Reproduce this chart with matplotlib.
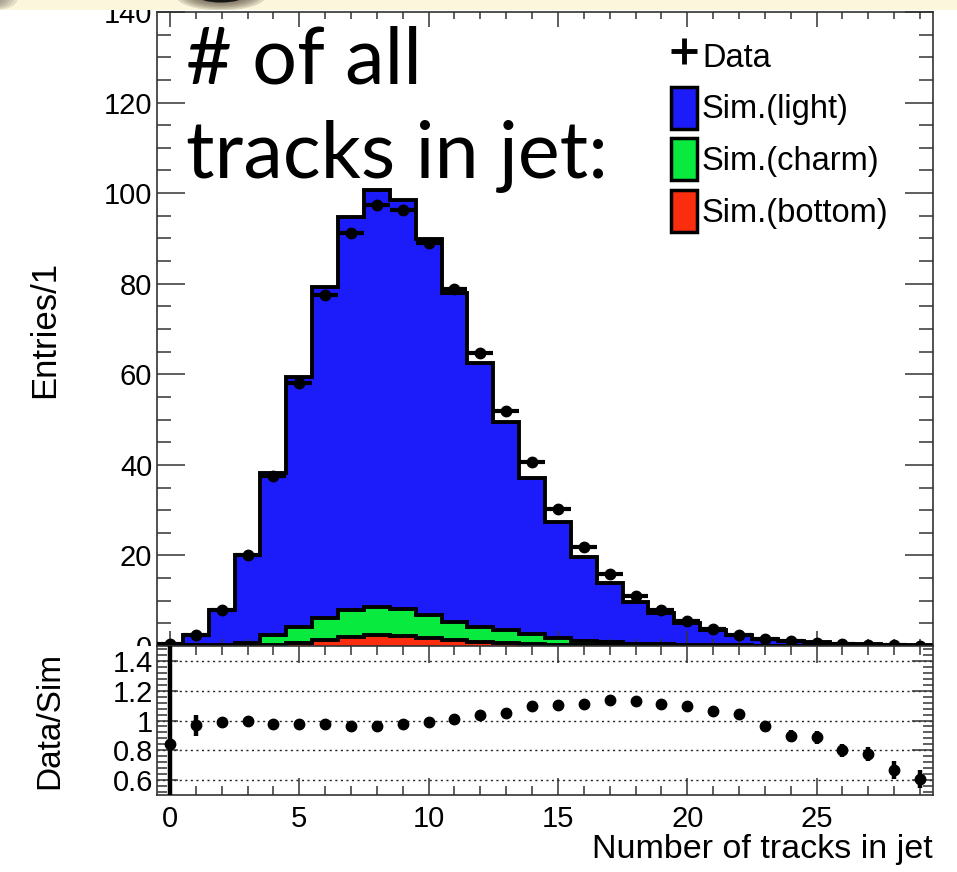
import numpy as np
import matplotlib
matplotlib.use("Agg")
import matplotlib.pyplot as plt
from matplotlib.patches import Patch, Rectangle, Ellipse
from matplotlib.lines import Line2D
from matplotlib.ticker import MultipleLocator, FixedLocator
from matplotlib.transforms import Bbox, TransformedBbox

# ---- data: number of tracks per jet, binned in unit bins ----
n_tracks = np.arange(30)

# total simulation (light + charm + bottom), stacked top
sim_total = [0.5, 2.5, 8.0, 20.0, 38.3, 59.3, 79.3, 94.8, 100.8, 98.5,
             89.8, 77.9, 62.4, 49.5, 37.0, 27.4, 19.7, 14.0, 9.8, 7.2,
             5.1, 3.5, 2.4, 1.5, 1.15, 0.8, 0.55, 0.4, 0.27, 0.18]
# charm component
sim_charm = [0.08, 0.15, 0.2, 0.45, 2.2, 3.6, 4.8, 6.0, 6.3, 6.1,
             5.1, 4.1, 3.4, 2.9, 2.15, 1.4, 0.9, 0.65, 0.45, 0.32,
             0.25, 0.16, 0.12, 0.08, 0.06, 0.04, 0.03, 0.025, 0.015, 0.01]
# bottom component
sim_bottom = [0.02, 0.05, 0.1, 0.15, 0.2, 0.7, 1.3, 1.9, 2.4, 2.1,
              1.7, 1.3, 0.9, 0.6, 0.45, 0.3, 0.2, 0.15, 0.1, 0.08,
              0.05, 0.04, 0.03, 0.02, 0.02, 0.01, 0.01, 0.005, 0.005, 0.0]
# observed data
data_counts = [0.42, 2.42, 7.91, 20.0, 37.46, 58.0, 77.56, 91.2, 97.37, 96.33,
               88.9, 78.9, 64.77, 51.83, 40.66, 30.17, 21.91, 15.92, 11.10, 7.99,
               5.59, 3.73, 2.50, 1.44, 1.03, 0.71, 0.44, 0.31, 0.18, 0.109]
# uncertainty on the data/sim ratio
ratio_err = [0.9, 0.07, 0.015, 0.01, 0.01, 0.01, 0.01, 0.01, 0.01, 0.01,
             0.01, 0.01, 0.012, 0.012, 0.014, 0.015, 0.016, 0.018, 0.02, 0.022,
             0.024, 0.026, 0.03, 0.035, 0.04, 0.045, 0.045, 0.05, 0.06, 0.06]

legend_labels = ["Data", "Sim.(light)", "Sim.(charm)", "Sim.(bottom)"]
y_ticks_top = [0, 20, 40, 60, 80, 100, 120, 140]
y_ticks_ratio = [0.6, 0.8, 1.0, 1.2, 1.4]
y_ticklabels_ratio = ["0.6", "0.8", "1", "1.2", "1.4"]
x_ticks = [0, 5, 10, 15, 20, 25]

BLUE = "#1c1cfa"
GREEN = "#08ea3e"
RED = "#fa2d0e"
OUTLINE_LW = 2.8

plt.rcParams["font.family"] = ["Liberation Sans", "DejaVu Sans"]

W, H = 957, 872
fig = plt.figure(figsize=(W / 100, H / 100), dpi=100)
fig.patch.set_facecolor("white")

def fx(px):
    return px / W

def fy(py):
    return 1 - py / H

left, right = 157, 933
top_top, split, bot_bot = 12, 646, 795
ax = fig.add_axes([fx(left), fy(split), fx(right - left), (split - top_top) / H])
rax = fig.add_axes([fx(left), fy(bot_bot), fx(right - left), (bot_bot - split) / H])

n = np.asarray(n_tracks)
total = np.asarray(sim_total)
charm = np.asarray(sim_charm)
bottom = np.asarray(sim_bottom)
data = np.asarray(data_counts)
cb = charm + bottom
edges = np.append(n - 0.5, n[-1] + 0.5)

# stacked simulation: light on top of charm on top of bottom
ax.stairs(total, edges, fill=True, color=BLUE, lw=0, zorder=1)
ax.stairs(total, edges, color="k", lw=OUTLINE_LW, zorder=2)
ax.stairs(cb, edges, fill=True, color=GREEN, lw=0, zorder=3)
ax.stairs(cb, edges, color="k", lw=OUTLINE_LW, zorder=4)
ax.stairs(bottom, edges, fill=True, color=RED, lw=0, zorder=5)
ax.stairs(bottom, edges, color="k", lw=OUTLINE_LW, zorder=6)

ax.errorbar(n, data, xerr=0.5, fmt="o", color="k", ms=7.5, elinewidth=3,
            capsize=0, zorder=8, clip_on=True)

ax.set_xlim(-0.5, 29.5)
ax.set_ylim(0, 140)
ax.set_ylabel("Entries/1", fontsize=25)
ax.yaxis.set_label_coords((61 - left) / (right - left), 0.5)
ax.yaxis.set_major_locator(FixedLocator(y_ticks_top))
ax.yaxis.set_minor_locator(MultipleLocator(5))
ax.xaxis.set_major_locator(FixedLocator(x_ticks))
ax.xaxis.set_minor_locator(MultipleLocator(1))
ax.tick_params(axis="both", which="both", direction="in", top=True, right=True,
               labelbottom=False, color="#333333", width=1.1)
ax.tick_params(axis="y", which="major", length=20, labelsize=21, pad=3.5)
ax.tick_params(axis="y", which="minor", length=10)
ax.tick_params(axis="x", which="major", length=10.5)
ax.tick_params(axis="x", which="minor", length=5)
for s in ax.spines.values():
    s.set_linewidth(1.2)
    s.set_color("#333333")

# only the part of the y tick labels above the lower pad is visible
clip = TransformedBbox(Bbox([[0, fy(split)], [1, 1]]), fig.transFigure)
for lab in ax.get_yticklabels():
    lab.set_clip_box(clip)
    lab.set_clip_on(True)

# legend
handles = [
    Line2D([], [], color="k", marker="+", ms=19, mew=3.5, ls="none"),
    Patch(facecolor=BLUE, edgecolor="k", lw=2.5),
    Patch(facecolor=GREEN, edgecolor="k", lw=2.5),
    Patch(facecolor=RED, edgecolor="k", lw=2.5),
]
ax.legend(handles, legend_labels, loc="upper left", frameon=False,
          bbox_to_anchor=(fx(671), fy(35)), bbox_transform=fig.transFigure,
          fontsize=23.5, handlelength=0.8, handleheight=1.6, handletextpad=0.15,
          labelspacing=0.3, borderpad=0, borderaxespad=0)

# ---- ratio pad ----
ratio = data / total
rax.yaxis.grid(True, which="major", ls=(0, (1.5, 2.5)), color="#222222", lw=1)
rax.set_axisbelow(True)
rax.errorbar(n, ratio, yerr=ratio_err, fmt="o", color="k", ms=7.5,
             elinewidth=3.2, capsize=0, zorder=5)
rax.set_xlim(-0.5, 29.5)
rax.set_ylim(0.5, 1.5)
rax.yaxis.set_major_locator(FixedLocator(y_ticks_ratio))
rax.set_yticklabels(y_ticklabels_ratio)
rax.yaxis.set_minor_locator(MultipleLocator(0.04))
rax.xaxis.set_major_locator(FixedLocator(x_ticks))
rax.xaxis.set_minor_locator(MultipleLocator(1))
rax.tick_params(axis="both", which="both", direction="in", top=True, right=True,
                color="#333333", width=1.1)
rax.tick_params(axis="x", which="major", length=12, labelsize=21, pad=7)
rax.tick_params(axis="x", which="minor", length=6.5)
rax.tick_params(axis="y", which="major", length=15, labelsize=21, pad=3)
rax.tick_params(axis="y", which="minor", length=7.5)
rax.set_ylabel("Data/Sim", fontsize=24)
rax.yaxis.set_label_coords((65 - left) / (right - left), 0.5)
rax.set_xlabel("Number of tracks in jet", fontsize=24.5, loc="right")
rax.xaxis.set_label_coords(1.0, -(834 - bot_bot) / (bot_bot - split))
for s in rax.spines.values():
    s.set_linewidth(1.2)
    s.set_color("#333333")

# ---- slide annotation ----
fig.text(fx(186), fy(83), "# of all", fontsize=57, family=["Lato", "DejaVu Sans"],
         ha="left", va="baseline", color="black", zorder=20)
fig.text(fx(186), fy(178), "tracks in jet:", fontsize=57, family=["Lato", "DejaVu Sans"],
         ha="left", va="baseline", color="black", zorder=20)

# ---- slide title strip at the top edge ----
bax = fig.add_axes([0, fy(10), 1, 10 / H], zorder=10)
bax.set_xlim(0, W)
bax.set_ylim(10, 0)
bax.axis("off")
bax.add_patch(Rectangle((0, 0), W, 10, color="#fcf6dd", lw=0))
for k in range(6):
    bax.add_patch(Ellipse((221, -4), 50 + 8 * k, 14 + 3 * k, color="#4a4030",
                          alpha=0.17, lw=0))
bax.add_patch(Ellipse((221, -4), 46, 13, color="#151515", lw=0))
for k in range(5):
    bax.add_patch(Ellipse((-4, -2), 12 + 8 * k, 12 + 3 * k, color="#6a6458",
                          alpha=0.16, lw=0))

fig.savefig("out.png", dpi=100, facecolor="white")
